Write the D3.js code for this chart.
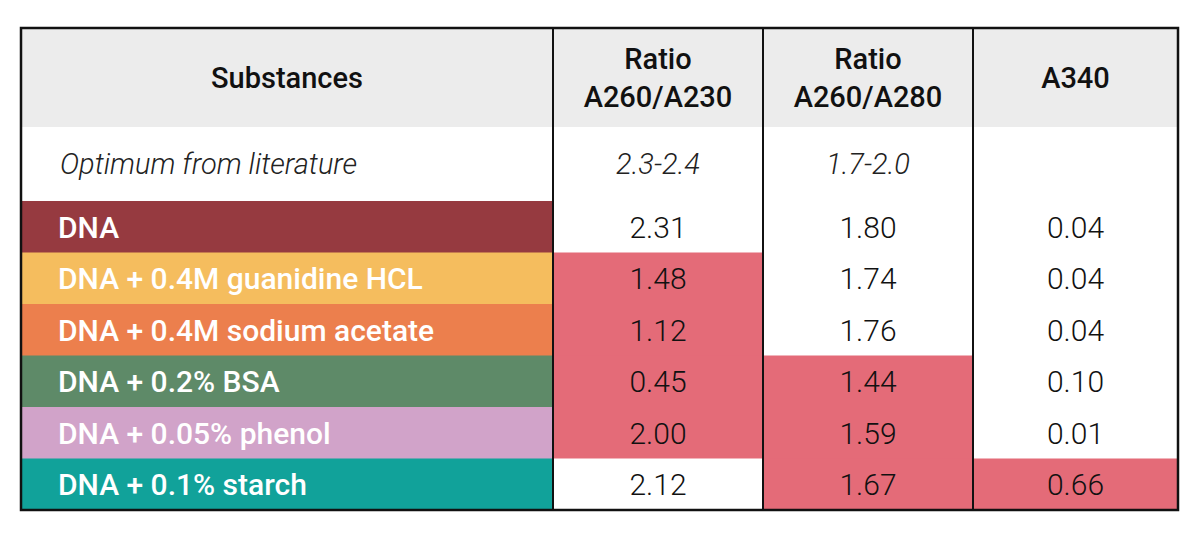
<!DOCTYPE html>
<html><head><meta charset="utf-8">
<script src="https://cdn.jsdelivr.net/npm/d3@7"></script>
<style>body{margin:0;background:#fff;font-family:Roboto,"DejaVu Sans",sans-serif}</style>
</head><body>
<svg id="chart" width="1200" height="533"></svg>
<script>
// table data
const headers = [["Substances"], ["Ratio", "A260/A230"], ["Ratio", "A260/A280"], ["A340"]];
const optimum = ["Optimum from literature", "2.3-2.4", "1.7-2.0", ""];
const substances = ["DNA", "DNA + 0.4M guanidine HCL", "DNA + 0.4M sodium acetate", "DNA + 0.2% BSA", "DNA + 0.05% phenol", "DNA + 0.1% starch"];
const rowColors = ["#963a40", "#f5bd5e", "#ec7f4d", "#5e8a68", "#d1a3c9", "#11a29a"];
const a230 = ["2.31", "1.48", "1.12", "0.45", "2.00", "2.12"];
const a280 = ["1.80", "1.74", "1.76", "1.44", "1.59", "1.67"];
const a340 = ["0.04", "0.04", "0.04", "0.10", "0.01", "0.66"];
const flag230 = [false, true, true, true, true, false];
const flag280 = [false, false, false, true, true, true];
const flag340 = [false, false, false, false, false, true];

const svg = d3.select("#chart");
const colEdges = [21, 553, 763, 973, 1178];
const tableTop = 28, headH = 99, optH = 74, tableBottom = 510;
const bodyTop = tableTop + headH + optH;

const rowY = d3.scaleBand().domain(d3.range(substances.length)).range([bodyTop, tableBottom]);
const x0 = i => colEdges[i], x1 = i => colEdges[i + 1];

// header background
svg.append("rect").attr("x", colEdges[0]).attr("y", tableTop).attr("width", colEdges[4] - colEdges[0]).attr("height", headH).attr("fill", "#ececec");

headers.forEach((lines, i) => {
  const t = svg.append("text").attr("text-anchor", "middle").attr("font-size", 29).attr("font-weight", 500).attr("fill", "#111");
  const cx = (x0(i) + x1(i)) / 2, cy = tableTop + headH / 2;
  lines.forEach((l, k) => {
    t.append("tspan").attr("x", cx).attr("y", cy + 10 + (k - (lines.length - 1) / 2) * 38).text(l);
  });
});

// optimum row
optimum.forEach((v, i) => {
  svg.append("text").attr("x", i === 0 ? 60 : (x0(i) + x1(i)) / 2).attr("y", tableTop + headH + optH / 2 + 10)
    .attr("text-anchor", i === 0 ? "start" : "middle").attr("font-size", 29).attr("font-style", "italic").attr("font-weight", 300).attr("fill", "#222").text(v);
});

// substance cells
svg.selectAll(".sub").data(substances).join("rect")
  .attr("x", x0(0)).attr("y", (d, i) => rowY(i)).attr("width", x1(0) - x0(0)).attr("height", rowY.bandwidth() + 0.5)
  .attr("fill", (d, i) => rowColors[i]);
svg.selectAll(".subt").data(substances).join("text")
  .attr("x", 58).attr("y", (d, i) => rowY(i) + rowY.bandwidth() / 2 + 11)
  .attr("font-size", 30).attr("font-weight", 500).attr("fill", "#fff").text(d => d);

[[a230, flag230], [a280, flag280], [a340, flag340]].forEach(([vals, flags], c) => {
  const ci = c + 1;
  svg.selectAll(".f" + ci).data(vals).join("rect")
    .attr("x", x0(ci)).attr("y", (d, i) => rowY(i)).attr("width", x1(ci) - x0(ci)).attr("height", rowY.bandwidth() + 0.5)
    .attr("fill", (d, i) => flags[i] ? "#e46b78" : "#fff");
  svg.selectAll(".v" + ci).data(vals).join("text")
    .attr("x", (x0(ci) + x1(ci)) / 2).attr("y", (d, i) => rowY(i) + rowY.bandwidth() / 2 + 11)
    .attr("text-anchor", "middle").attr("font-size", 30).attr("font-weight", 300).attr("fill", "#111").text(d => d);
});

// borders
[1, 2, 3].forEach(i => svg.append("line").attr("x1", colEdges[i]).attr("x2", colEdges[i]).attr("y1", tableTop).attr("y2", tableBottom).attr("stroke", "#111").attr("stroke-width", 2));
svg.append("rect").attr("x", colEdges[0]).attr("y", tableTop).attr("width", colEdges[4] - colEdges[0]).attr("height", tableBottom - tableTop)
  .attr("fill", "none").attr("stroke", "#111").attr("stroke-width", 2.5);
</script>
</body></html>
